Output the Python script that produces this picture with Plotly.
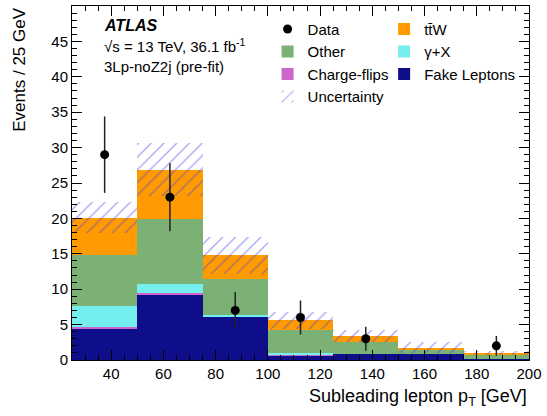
import numpy as np
import plotly.graph_objects as go

# ── Data ──────────────────────────────────────────────────────────────────────
bin_lo = [25, 50, 75, 100, 125, 150, 175]
bin_width = 25
centers = [b + bin_width / 2 for b in bin_lo]

fake = [4.5, 9.3, 6.1, 0.7, 0.85, 0.85, 0.1]
qmisid = [0.1, 0.1, 0.1, 0.05, 0.0, 0.0, 0.0]
gamma_x = [3.0, 1.3, 0.1, 0.25, 0.05, 0.0, 0.0]
other = [7.3, 9.2, 5.1, 3.2, 1.6, 0.55, 0.6]
ttw = [5.2, 7.0, 3.4, 1.4, 0.9, 0.35, 0.3]
unc = [2.2, 3.7, 2.6, 1.2, 0.8, 0.8, 0.3]

data_x = [37.5, 62.5, 87.5, 112.5, 137.5, 187.5]
data_y = [29, 23, 7, 6, 3, 2]
data_err = [5.4, 4.8, 2.6, 2.4, 1.7, 1.4]

# ── Style ─────────────────────────────────────────────────────────────────────
FONT = "Liberation Sans, Arial, Helvetica, sans-serif"
C_FAKE = "#0E0E8A"
C_QMISID = "#CC66CC"
C_GAMMA = "#74EEEE"
C_OTHER = "#7BB174"
C_TTW = "#FF9A00"
C_UNC = "#4646E6"

# (name, values, colour, legend column, rank within column)
stack = [
    ("Fake Leptons", fake, C_FAKE, "legend2", 3),
    ("Charge-flips", qmisid, C_QMISID, "legend", 3),
    ("γ+X", gamma_x, C_GAMMA, "legend2", 2),
    ("Other", other, C_OTHER, "legend", 2),
    ("tt\u0304W", ttw, C_TTW, "legend2", 1),
]

fig = go.Figure()

base = np.zeros(len(bin_lo))
for name, vals, col, leg, rank in stack:
    fig.add_trace(go.Bar(
        x=centers, y=vals, base=base.copy(), width=bin_width,
        marker=dict(color=col, line=dict(width=0)),
        name=name, legend=leg, legendrank=rank,
    ))
    base += np.array(vals)

total = base
fig.add_trace(go.Bar(
    x=centers, y=2 * np.array(unc), base=total - np.array(unc), width=bin_width,
    marker=dict(color="rgba(0,0,0,0)", line=dict(width=0),
                pattern=dict(shape="/", fgcolor=C_UNC, bgcolor="rgba(0,0,0,0)",
                             size=9, solidity=0.14)),
    name="Uncertainty", legend="legend", legendrank=4,
))

fig.add_trace(go.Scatter(
    x=data_x, y=data_y, mode="markers",
    marker=dict(color="black", size=9),
    error_y=dict(type="data", array=data_err, color="#222222", thickness=1.5, width=0),
    name="Data", legend="legend", legendrank=1,
))

leg_style = dict(
    bgcolor="rgba(0,0,0,0)", font=dict(family=FONT, size=15, color="black"),
    yanchor="top", xanchor="left", tracegroupgap=0, itemwidth=30,
)
fig.update_layout(
    width=547, height=416,
    margin=dict(l=72, r=13, t=5, b=56),
    paper_bgcolor="white", plot_bgcolor="white",
    barmode="overlay", bargap=0,
    font=dict(family=FONT, size=15, color="black"),
    legend=dict(x=0.428, y=0.981, **leg_style),
    legend2=dict(x=0.683, y=0.981, **leg_style),
)

axis_common = dict(
    showline=True, linecolor="black", linewidth=1, mirror="ticks",
    ticks="inside", ticklen=10, tickcolor="black", tickwidth=1,
    showgrid=False, zeroline=False,
    tickfont=dict(family=FONT, size=15, color="black"),
)
fig.update_xaxes(range=[25, 200], tick0=0, dtick=20,
                 minor=dict(dtick=5, ticklen=5, ticks="inside", tickcolor="black"),
                 **axis_common)
fig.update_yaxes(range=[0, 50], tickvals=list(range(0, 50, 5)),
                 minor=dict(dtick=1, ticklen=5, ticks="inside", tickcolor="black"),
                 **axis_common)

annots = [
    dict(text="Subleading lepton p<sub>T</sub> [GeV]", x=1, y=-0.105, xanchor="right",
         yanchor="middle", font=dict(size=18)),
    dict(text="Events / 25 GeV", x=-0.115, y=1.002, xanchor="center", yanchor="top",
         textangle=-90, font=dict(size=17)),
    dict(text="<b><i>ATLAS</i></b>", x=0.065, y=0.945, xanchor="left", yanchor="middle",
         font=dict(size=16)),
    dict(text="√s = 13 TeV, 36.1 fb<sup>-1</sup>", x=0.065, y=0.888, xanchor="left",
         yanchor="middle", font=dict(size=15)),
    dict(text="3Lp-noZ2j (pre-fit)", x=0.065, y=0.83, xanchor="left", yanchor="middle",
         font=dict(size=15)),
]
for a in annots:
    fig.add_annotation(xref="paper", yref="paper", showarrow=False, **a)

# page body has a default 8px margin; drop it so the figure fills the window
fig.write_html("out.html", config={"displayModeBar": False},
               post_script="document.body.style.margin='0';")
